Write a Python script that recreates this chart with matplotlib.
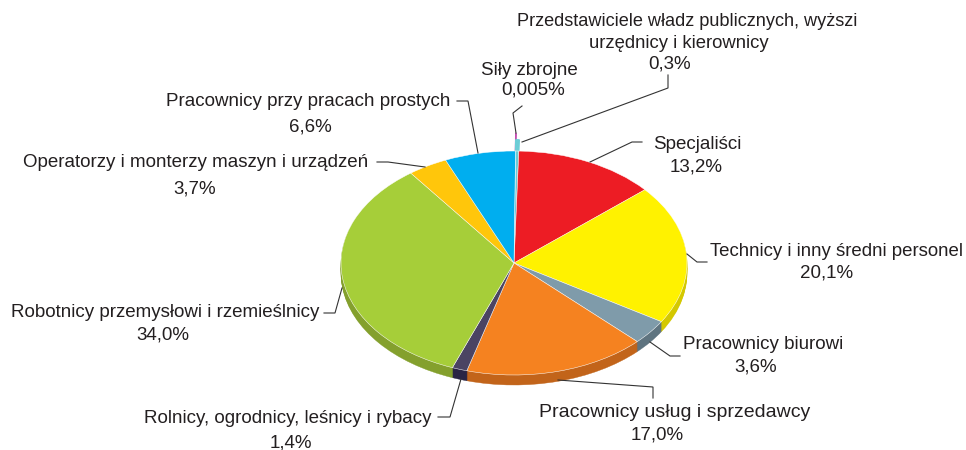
import matplotlib
matplotlib.use("Agg")
import matplotlib.pyplot as plt

plt.rcParams['font.family'] = ['Liberation Sans', 'DejaVu Sans']

categories = ["Siły zbrojne",
              "Przedstawiciele władz publicznych, wyższi",
              "Specjaliści", "Technicy i inny średni personel", "Pracownicy biurowi",
              "Pracownicy usług i sprzedawcy", "Rolnicy, ogrodnicy, leśnicy i rybacy",
              "Robotnicy przemysłowi i rzemieślnicy", "Operatorzy i monterzy maszyn i urządzeń",
              "Pracownicy przy pracach prostych"]
second_line = "urzędnicy i kierownicy"
values = [0.005, 0.3, 13.2, 20.1, 3.6, 17.0, 1.4, 34.0, 3.7, 6.6]
value_labels = ["0,005%", "0,3%", "13,2%", "20,1%", "3,6%", "17,0%", "1,4%", "34,0%", "3,7%", "6,6%"]
top_colors = ["#C24FB0", "#6CCDD6", "#ED1C24", "#FFF200", "#7F9BAA", "#F58220",
              "#4B4463", "#A6CE39", "#FFC60B", "#00AEEF"]
side_colors = ["#8E3A80", "#4E98A0", "#B0151B", "#D4C800", "#5F7480", "#C2641A",
               "#2A2545", "#84A02D", "#C99C08", "#0085B8"]

W, H = 966, 450
CX, CY, RX, RY = 514.0, 263.0, 173.0, 112.0
DEPTH = 10
START = 89.5

fig = plt.figure(figsize=(W / 100, H / 100), dpi=100, facecolor="white")

# pie axes: the unit circle maps on the top-face ellipse
pie_ax = fig.add_axes([(CX - RX) / W, 1 - (CY + RY) / H, 2 * RX / W, 2 * RY / H])
common = dict(startangle=START, counterclock=False)
for d in range(DEPTH, 0, -1):
    w, _ = pie_ax.pie(values, colors=side_colors, center=(0, -d / RY), radius=1, **common)
    for p in w:
        p.set_clip_on(False)
        p.set_edgecolor(p.get_facecolor())
        p.set_linewidth(0.3)
for i, r in [(0, 1.16), (1, 1.10)]:
    rest = sum(values) - values[i]
    before = sum(values[:i]) / sum(values) * 360
    w, _ = pie_ax.pie([values[i], rest], colors=[top_colors[i], "none"], radius=r,
                      startangle=START - before, counterclock=False)
    w[0].set_clip_on(False)
    w[0].set_edgecolor(top_colors[i])
    w[0].set_linewidth(1.0)
    w[1].set_visible(False)
w, _ = pie_ax.pie(values, colors=top_colors, radius=1,
                  wedgeprops=dict(edgecolor="#ffffff", linewidth=0.35), **common)
for p in w:
    p.set_clip_on(False)
pie_ax.set_aspect("auto")
pie_ax.set_xlim(-1, 1)
pie_ax.set_ylim(-1, 1)
pie_ax.axis("off")

# annotation overlay in pixel coordinates
ax = fig.add_axes([0, 0, 1, 1], facecolor="none")
ax.set_xlim(0, W)
ax.set_ylim(H, 0)
ax.axis("off")

leaders = [
    [(516, 133), (513, 113), (522, 106)],
    [(522, 142), (668, 88), (668, 75)],
    [(590, 162), (632, 142), (642, 142)],
    [(687, 254), (697, 262), (707, 262)],
    [(650, 342), (670, 356), (680, 356)],
    [(558, 380), (653, 387), (653, 398)],
    [(461, 379), (450, 417), (438, 417)],
    [(342, 288), (335, 313), (324, 313)],
    [(425, 167), (388, 162), (377, 162)],
    [(478, 153), (468, 101), (457, 101)],
]
for line in leaders:
    ax.plot(*zip(*line), color="#333333", lw=0.8, solid_joinstyle="miter")

name_pos = [(529, 70.5), (687.5, 21.5), (697, 144.5), (836.5, 251.5), (763, 344.5),
            (674.5, 412.5), (287.5, 418.5), (165, 312.5), (196, 162.5), (308.5, 101.5)]
pct_pos = [(533, 90), (670, 64), (696, 167.5), (827, 273.5), (756, 367.5),
           (657, 434.5), (291, 442.5), (163, 335.5), (195, 188.5), (310, 126.5)]
sizes = [13.5, 13.1, 13.5, 13.4, 13.5, 14.0, 13.5, 13.5, 13.5, 13.5]
for name, pct, np_, pp, fs in zip(categories, value_labels, name_pos, pct_pos, sizes):
    ax.text(*np_, name, ha="center", va="center", fontsize=fs, color="#231F20")
    ax.text(*pp, pct, ha="center", va="center", fontsize=13.5, color="#231F20")
ax.text(678.5, 43, second_line, ha="center", va="center", fontsize=13.3, color="#231F20")

fig.savefig("out.png", dpi=100, facecolor="white")
